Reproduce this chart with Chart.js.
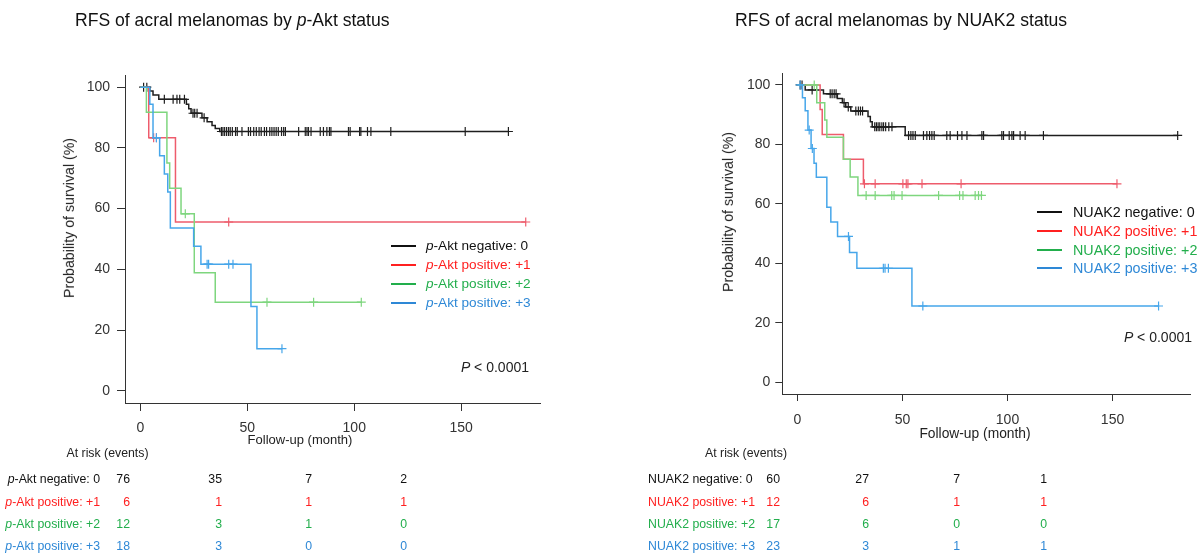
<!DOCTYPE html>
<html><head><meta charset="utf-8">
<script src="https://cdn.jsdelivr.net/npm/chart.js@4.4.1/dist/chart.umd.min.js"></script>
<style>
html,body{margin:0;padding:0;background:#fff;}
#page{position:relative;width:1200px;height:554px;overflow:hidden;font-family:"Liberation Sans",Arial,sans-serif;}
canvas{position:absolute;top:0;}
.t{position:absolute;white-space:nowrap;line-height:1;}
.ln{position:absolute;height:2px;}
</style></head><body><div id="page">
<canvas id="c1" width="600" height="554" style="left:0px"></canvas>
<canvas id="c2" width="600" height="554" style="left:600px"></canvas>
</div>
<script>
// ---------- shared ticks ----------
const xTicks = [0, 50, 100, 150];
const yTicks = [0, 20, 40, 60, 80, 100];

// ---------- p-Akt panel ----------
const aktTitle = 'RFS of acral melanomas by p-Akt status';
const aktLabels = ['p-Akt negative: 0', 'p-Akt positive: +1', 'p-Akt positive: +2', 'p-Akt positive: +3'];
const akt0EventT = [4.4, 5.9, 8.6, 21.5, 22.6, 23.7, 28.8, 31.2, 33.5, 35.0, 37.1];
const akt0EventS = [98.7, 97.4, 96.0, 94.4, 92.9, 91.4, 89.9, 88.6, 87.4, 86.4, 85.4];
const akt0Censor = [1.5, 3.0, 11.2, 15.3, 17.1, 18.4, 20.6, 24.6, 25.4, 26.5, 29.8, 37.9, 38.6, 39.4, 40.3, 41.2, 42.0, 43.0, 44.5, 45.3, 47.5, 50.5, 51.5, 53.0, 54.2, 55.5, 56.5, 58.0, 59.0, 60.5, 61.5, 62.5, 63.5, 64.5, 66.0, 67.0, 67.8, 74.0, 77.1, 77.9, 78.6, 79.8, 84.1, 85.6, 87.2, 88.4, 89.1, 97.3, 98.1, 102.5, 103.1, 106.2, 107.8, 117.1, 151.9, 172.1];
const akt1EventT = [3.9, 16.4];
const akt1EventS = [83.3, 55.6];
const akt1Censor = [6.2, 7.5, 41.3, 180.2];
const akt2EventT = [2.8, 12.4, 13.7, 19.0, 25.2, 35.0];
const akt2EventS = [91.7, 75.0, 66.7, 58.3, 38.9, 29.2];
const akt2Censor = [21.0, 59.2, 81.0, 103.3];
const akt3EventT = [4.4, 5.9, 9.0, 11.2, 12.8, 14.0, 24.9, 28.3, 51.7, 54.5];
const akt3EventS = [94.4, 83.3, 77.4, 71.4, 65.5, 53.6, 47.6, 41.7, 27.8, 13.9];
const akt3Censor = [7.5, 31.2, 31.9, 41.3, 43.3, 66.2];
const aktRisk0 = [76, 35, 7, 2];
const aktRisk1 = [6, 1, 1, 1];
const aktRisk2 = [12, 3, 1, 0];
const aktRisk3 = [18, 3, 0, 0];

// ---------- NUAK2 panel ----------
const nuakTitle = 'RFS of acral melanomas by NUAK2 status';
const nuakLabels = ['NUAK2 negative: 0', 'NUAK2 positive: +1', 'NUAK2 positive: +2', 'NUAK2 positive: +3'];
const nuak0EventT = [3.7, 12.4, 19.0, 21.4, 23.0, 25.4, 33.6, 34.7, 35.6, 51.3];
const nuak0EventS = [98.3, 97.0, 95.4, 94.0, 92.6, 91.2, 89.4, 87.6, 85.9, 83.0];
const nuak0Censor = [1.3, 2.2, 7.0, 15.6, 16.5, 17.5, 18.4, 22.2, 24.2, 27.8, 29.0, 30.0, 31.0, 36.8, 37.6, 38.4, 39.2, 40.2, 41.0, 42.0, 43.5, 45.0, 52.9, 54.0, 55.0, 56.1, 60.0, 61.6, 62.9, 64.0, 65.1, 71.1, 72.7, 76.2, 78.3, 80.7, 87.8, 88.6, 97.3, 98.1, 100.8, 102.1, 102.9, 106.0, 108.4, 117.1, 181.0];
const nuak1EventT = [10.8, 11.8, 21.9, 31.4];
const nuak1EventS = [91.7, 83.3, 75.0, 66.7];
const nuak1Censor = [31.9, 37.0, 50.2, 51.8, 52.6, 59.3, 77.9, 152.1];
const nuak2EventT = [9.2, 13.0, 14.0, 21.9, 25.1, 28.8];
const nuak2EventS = [94.0, 88.2, 82.4, 75.0, 69.0, 62.8];
const nuak2Censor = [8.0, 32.7, 37.0, 44.9, 46.0, 49.8, 67.2, 77.2, 78.8, 84.6, 86.2, 87.6];
const nuak3EventT = [2.4, 3.7, 5.0, 6.5, 7.9, 9.0, 14.0, 15.9, 19.1, 24.8, 28.3, 54.5];
const nuak3EventS = [95.7, 91.3, 84.8, 78.6, 73.6, 68.9, 58.8, 53.9, 49.0, 43.6, 38.3, 25.6];
const nuak3Censor = [1.3, 5.6, 7.1, 24.3, 40.9, 41.7, 43.3, 59.7, 171.9];
const nuakRisk0 = [60, 27, 7, 1];
const nuakRisk1 = [12, 6, 1, 1];
const nuakRisk2 = [17, 6, 0, 0];
const nuakRisk3 = [23, 3, 1, 1];

// ---------- styling / layout constants ----------
const FONT = '"Liberation Sans", Arial, sans-serif';
const curveColors = ['#1e1e1e', '#EE5C6C', '#7ED67E', '#46A6EA'];
const keyColors = ['#111111', '#FF2020', '#22AE4C', '#2E88D6'];
Chart.defaults.font.family = FONT;

const page = document.getElementById('page');
function txt(html, x, y, size, color, align, rot, sx) {
  const d = document.createElement('div');
  d.className = 't';
  d.innerHTML = html;
  d.style.fontSize = size + 'px';
  d.style.color = color;
  d.style.left = x + 'px';
  d.style.top = y + 'px';
  const tx = align === 'right' ? '-100%' : (align === 'center' ? '-50%' : '0');
  let tf = 'translate(' + tx + ',-50%)' + (rot ? ' rotate(' + rot + 'deg)' : '');
  if (sx) { tf += ' scaleX(' + sx + ')'; d.style.transformOrigin = '0 50%'; }
  d.style.transform = tf;
  page.appendChild(d);
  return d;
}
function lineKey(x1, x2, y, color) {
  const d = document.createElement('div');
  d.className = 'ln';
  d.style.left = x1 + 'px'; d.style.width = (x2 - x1) + 'px';
  d.style.top = (y - 1) + 'px'; d.style.background = color;
  page.appendChild(d);
}
function ital(s) { return s.replace(/^p-/, '<i>p</i>-').replace(/ p-/, ' <i>p</i>-'); }

function survAt(T, S, t) {
  let s = 100;
  for (let i = 0; i < T.length; i++) if (T[i] <= t) s = S[i];
  return s;
}

function kmChart(id, groups, g) {
  const datasets = [];
  groups.forEach((gr, k) => {
    const pts = [{x: 0, y: 100}];
    gr.T.forEach((t, i) => pts.push({x: t, y: gr.S[i]}));
    const end = Math.max(...gr.C, ...gr.T);
    pts.push({x: end, y: gr.S[gr.S.length - 1]});
    datasets.push({type: 'line', data: pts, borderColor: curveColors[k], borderWidth: 1.5,
      pointRadius: 0, stepped: 'before', fill: false, order: 4 - k});
    datasets.push({type: 'scatter', data: gr.C.map(t => ({x: t, y: survAt(gr.T, gr.S, t)})),
      pointStyle: 'cross', pointRadius: 4.5, pointBorderColor: curveColors[k],
      pointBackgroundColor: curveColors[k], pointBorderWidth: 1.2, showLine: false, order: 4 - k});
  });
  const axisCol = '#333';
  return new Chart(document.getElementById(id), {
    data: {datasets},
    options: {
      responsive: false, animation: false, devicePixelRatio: 1,
      layout: {padding: {left: 0, top: g.top, right: g.right, bottom: 0}},
      plugins: {legend: {display: false}, tooltip: {enabled: false}, title: {display: false}},
      scales: {
        x: {type: 'linear', min: -7.2, max: 187.2,
          afterBuildTicks: s => { s.ticks = xTicks.map(v => ({value: v})); },
          afterFit: s => { s.height = g.xH; },
          grid: {display: true, drawOnChartArea: false, drawTicks: true, tickLength: g.tl, color: axisCol, lineWidth: 1},
          border: {display: true, color: axisCol, width: 1},
          ticks: {color: '#333', font: {size: 14}, padding: g.xpad, maxRotation: 0, autoSkip: false}},
        y: {type: 'linear', min: -4, max: 104,
          afterBuildTicks: s => { s.ticks = yTicks.map(v => ({value: v})); },
          afterFit: s => { s.width = g.yW; },
          grid: {display: true, drawOnChartArea: false, drawTicks: true, tickLength: g.tl, color: axisCol, lineWidth: 1},
          border: {display: true, color: axisCol, width: 1},
          ticks: {color: '#333', font: {size: 14}, padding: g.ypad, autoSkip: false}}
      }
    }
  });
}

const ch1 = kmChart('c1', [
  {T: akt0EventT, S: akt0EventS, C: akt0Censor},
  {T: akt1EventT, S: akt1EventS, C: akt1Censor},
  {T: akt2EventT, S: akt2EventS, C: akt2Censor},
  {T: akt3EventT, S: akt3EventS, C: akt3Censor}
], {top: 75, right: 59.3, xH: 151, yW: 125, tl: 8, xpad: 9, ypad: 7});

const ch2 = kmChart('c2', [
  {T: nuak0EventT, S: nuak0EventS, C: nuak0Censor},
  {T: nuak1EventT, S: nuak1EventS, C: nuak1Censor},
  {T: nuak2EventT, S: nuak2EventS, C: nuak2Censor},
  {T: nuak3EventT, S: nuak3EventS, C: nuak3Censor}
], {top: 73, right: 9.3, xH: 160, yW: 182.3, tl: 7, xpad: 10.6, ypad: 5});

// ---------- text: titles, axis titles, legends, p-values ----------
txt(ital(aktTitle), 75, 20, 18.5, '#111', 'left', 0, 0.95);
txt(ital(nuakTitle), 735, 20, 18.5, '#111', 'left', 0, 0.95);

txt('Probability of survival (%)', 69, 218, 14.2, '#222', 'center', -90);
txt('Probability of survival (%)', 728, 212, 14.2, '#222', 'center', -90);
txt('Follow-up (month)', 300, 439, 13, '#222', 'center');
txt('Follow-up (month)', 975, 434, 13.8, '#222', 'center');

const aktKeyY = [246, 265, 284, 303];
aktLabels.forEach((l, i) => { lineKey(391, 416, aktKeyY[i], keyColors[i]); txt(ital(l), 426, aktKeyY[i], 13.6, keyColors[i], 'left'); });
const nuakKeyY = [212, 231, 249.5, 268];
nuakLabels.forEach((l, i) => { lineKey(1037, 1062, nuakKeyY[i], keyColors[i]); txt(l, 1073, nuakKeyY[i], 14.3, keyColors[i], 'left'); });

txt('<i>P</i> &lt; 0.0001', 529, 367, 14, '#222', 'right');
txt('<i>P</i> &lt; 0.0001', 1192, 337, 14, '#222', 'right');

// ---------- at-risk tables ----------
const rowY = [479, 502, 524, 546];
const aktColX = [130, 222, 312, 407];
const nuakColX = [780, 869, 960, 1047];
txt('At risk (events)', 107.5, 453, 12.3, '#222', 'center');
txt('At risk (events)', 746, 453, 12.3, '#222', 'center');
const aktRisk = [aktRisk0, aktRisk1, aktRisk2, aktRisk3];
const nuakRisk = [nuakRisk0, nuakRisk1, nuakRisk2, nuakRisk3];
aktLabels.forEach((l, i) => {
  txt(ital(l), 100, rowY[i], 12.3, keyColors[i], 'right');
  aktRisk[i].forEach((n, j) => txt(String(n), aktColX[j], rowY[i], 12.3, keyColors[i], 'right'));
});
nuakLabels.forEach((l, i) => {
  txt(l, 648, rowY[i], 12.3, keyColors[i], 'left');
  nuakRisk[i].forEach((n, j) => txt(String(n), nuakColX[j], rowY[i], 12.3, keyColors[i], 'right'));
});
</script></body></html>
